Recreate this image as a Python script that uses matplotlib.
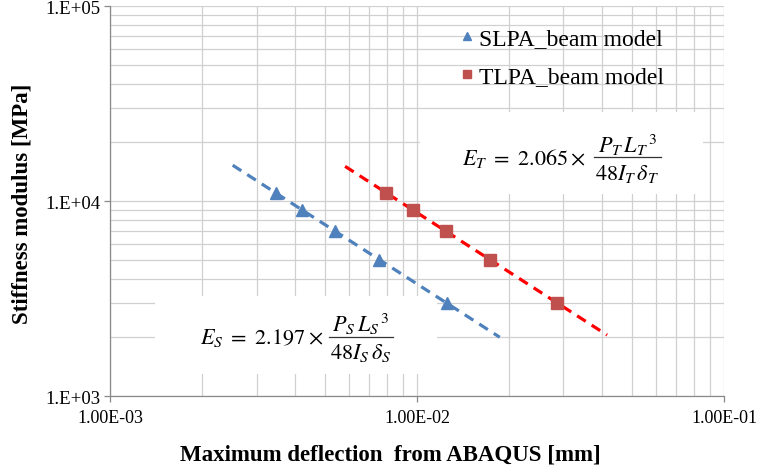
import numpy as np
import matplotlib
matplotlib.use("Agg")
import matplotlib.pyplot as plt
from matplotlib.patches import Rectangle
from matplotlib.lines import Line2D
from matplotlib.ticker import FixedLocator, LogLocator, NullFormatter

# ---- data ----
slpa_x = [0.00348, 0.00422, 0.0054, 0.0075, 0.01253]
slpa_y = [11000, 9000, 7000, 5000, 3000]
tlpa_x = [0.00793, 0.0097, 0.01243, 0.0173, 0.0286]
tlpa_y = [11000, 9000, 7000, 5000, 3000]
slpa_trend_range = [0.00251, 0.0186]
tlpa_trend_range = [0.00583, 0.0416]
x_ticks = [1e-3, 1e-2, 1e-1]
x_ticklabels = ["1.00E-03", "1.00E-02", "1.00E-01"]
y_ticks = [1e3, 1e4, 1e5]
y_ticklabels = ["1.E+03", "1.E+04", "1.E+05"]
series_labels = ["SLPA_beam model", "TLPA_beam model"]
eq_S = (r"$E_S\ =\ 2.197\times$", r"$P_S\,{L_S}^{\,3}$", r"$48I_S\,\delta_S$")
eq_T = (r"$E_T\ =\ 2.065\times$", r"$P_T\,{L_T}^{\,3}$", r"$48I_T\,\delta_T$")

plt.rcParams["mathtext.fontset"] = "stix"
serif = "Liberation Serif"

fig = plt.figure(figsize=(7.61, 4.77), dpi=100)
ax = fig.add_axes([0.1446, 0.1677, 0.9514 - 0.1446, 0.9853 - 0.1677])
ax.set_xscale("log")
ax.set_yscale("log")
ax.set_xlim(1e-3, 1e-1)
ax.set_ylim(1e3, 1e5)

grid_c = "#d0d0d0"
ax.xaxis.set_major_locator(FixedLocator(x_ticks))
ax.yaxis.set_major_locator(FixedLocator(y_ticks))
ax.xaxis.set_minor_locator(LogLocator(base=10, subs=np.arange(2, 10)))
ax.yaxis.set_minor_locator(LogLocator(base=10, subs=np.arange(2, 10)))
ax.xaxis.set_minor_formatter(NullFormatter())
ax.yaxis.set_minor_formatter(NullFormatter())
ax.set_xticklabels(x_ticklabels, fontfamily=serif, fontsize=13)
ax.set_yticklabels(y_ticklabels, fontfamily=serif, fontsize=13.5)
ax.grid(True, which="both", color=grid_c, linewidth=0.9)
ax.set_axisbelow(True)
ax.tick_params(which="minor", length=0)
ax.tick_params(which="major", length=4, color="#898989", width=0.9, pad=3)
ax.tick_params(axis="x", which="major", pad=5)
for s in ["top", "right"]:
    ax.spines[s].set_visible(False)
for s in ["left", "bottom"]:
    ax.spines[s].set_color("#898989")
    ax.spines[s].set_linewidth(0.9)

def fx(px):
    return (px - 110) / 614.0

def fy(py):
    return (397 - py) / 390.0

# white boxes behind equations
ax.add_patch(Rectangle((fx(155), fy(375)), fx(437) - fx(155), fy(297) - fy(375),
                       transform=ax.transAxes, facecolor="white", edgecolor="none", zorder=1))
ax.add_patch(Rectangle((fx(420), fy(195)), fx(703) - fx(420), fy(113) - fy(195),
                       transform=ax.transAxes, facecolor="white", edgecolor="none", zorder=1))

blue = "#4F81BD"
red = "#C0504D"

def trend(xs, ys, rng):
    b, a = np.polyfit(np.log10(xs), np.log10(ys), 1)
    xx = np.array(rng)
    return xx, 10 ** (a + b * np.log10(xx))

tx, ty = trend(slpa_x, slpa_y, slpa_trend_range)
ax.plot(tx, ty, ls=(0, (3.2, 2.2)), color="#4F81BD", lw=2.3, zorder=2)
tx, ty = trend(tlpa_x, tlpa_y, tlpa_trend_range)
ax.plot(tx, ty, ls=(0, (3.2, 2.2)), color="#FF0000", lw=2.3, zorder=2)

ax.plot(slpa_x, slpa_y, ls="none", marker="^", ms=9, color=blue, zorder=3,
        label=series_labels[0])
ax.plot(tlpa_x, tlpa_y, ls="none", marker="s", ms=8, color=red, zorder=3,
        label=series_labels[1])

leg = ax.legend(loc="upper left", bbox_to_anchor=(0.537, 1.0), frameon=False,
                prop={"family": serif, "size": 17}, handlelength=0.5,
                handletextpad=0.25, labelspacing=0.72, markerscale=0.7)

def equation(parts, left_px, bar_x0, bar_x1, bar_y, num_y, den_y):
    lhs, num, den = parts
    ax.text(fx(left_px), fy(bar_y), lhs, transform=ax.transAxes, ha="left",
            va="center", fontsize=16, zorder=4)
    cx = fx((bar_x0 + bar_x1) / 2)
    ax.text(cx, fy(num_y), num, transform=ax.transAxes, ha="center",
            va="center", fontsize=16, zorder=4)
    ax.text(cx, fy(den_y), den, transform=ax.transAxes, ha="center",
            va="center", fontsize=16, zorder=4)
    ax.add_line(Line2D([fx(bar_x0), fx(bar_x1)], [fy(bar_y), fy(bar_y)],
                       transform=ax.transAxes, color="#333333", lw=0.9, zorder=4))

equation(eq_T, 462, 594, 661, 158, 145, 174)
equation(eq_S, 200, 329, 393, 338, 324, 353)

fig.text(390 / 761, 1 - 455 / 477, "Maximum deflection  from ABAQUS [mm]",
         ha="center", va="center", fontfamily=serif, fontweight="bold", fontsize=16.5)
fig.text(22 / 761, 1 - 204 / 477, "Stiffness modulus [MPa]", rotation=90,
         ha="center", va="center", fontfamily=serif, fontweight="bold", fontsize=16.5)

fig.savefig("out.png", dpi=100)
